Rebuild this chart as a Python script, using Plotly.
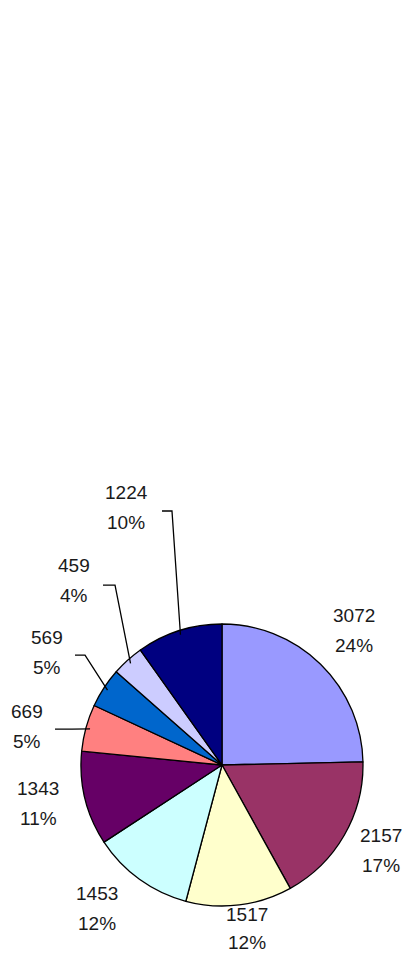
import math
import plotly.graph_objects as go

# ---- data ----
values = [3072, 2157, 1517, 1453, 1343, 669, 569, 459, 1224]
value_labels = ["3072", "2157", "1517", "1453", "1343", "669", "569", "459", "1224"]
pct_labels = ["24%", "17%", "12%", "12%", "11%", "5%", "5%", "4%", "10%"]
colors = ["#9999FF", "#993366", "#FFFFCC", "#CCFFFF", "#660066",
          "#FF8080", "#0066CC", "#CCCCFF", "#000080"]

# ---- layout constants (pixels) ----
W, H = 406, 955
CX, CY, R = 222, 765, 141
# label centre positions (value line) and gap to percent line
label_pos = [(354, 615), (381, 835), (247, 914), (97, 893), (38, 788),
             (27, 711), (47, 637), (74, 565), (126, 492)]
pct_gap = [30, 30, 28, 30, 30, 30, 30, 30, 30]
# leader-line elbows (start x, corner x, y) for labels that have one, else None
leaders = [None, None, None, None, None,
           (55, 72, 729), (75, 85, 655), (103, 115, 585), (162, 172, 511)]

def px(x):
    return x / W

def py(y):
    return 1 - y / H

fig = go.Figure()
fig.add_trace(go.Pie(
    values=values,
    labels=value_labels,
    marker=dict(colors=colors, line=dict(color="black", width=1.3)),
    sort=False,
    direction="clockwise",
    rotation=0,
    textinfo="none",
    hoverinfo="label+percent",
    showlegend=False,
    domain=dict(x=[px(CX - R), px(CX + R)], y=[py(CY + R), py(CY - R)]),
))

font = dict(family="Liberation Sans, Arial, sans-serif", size=19, color="#1a1a1a")
annotations = []
shapes = []
total = sum(values)
cum = 0
for i, v in enumerate(values):
    mid = (cum + v / 2) / total
    cum += v
    lx, ly = label_pos[i]
    annotations.append(dict(x=px(lx), y=py(ly), xref="paper", yref="paper",
                            text=value_labels[i], showarrow=False, font=font,
                            xanchor="center", yanchor="middle", borderpad=0))
    annotations.append(dict(x=px(lx), y=py(ly + pct_gap[i]), xref="paper", yref="paper",
                            text=pct_labels[i], showarrow=False, font=font,
                            xanchor="center", yanchor="middle", borderpad=0))
    if leaders[i] is not None:
        x0, x1, yl = leaders[i]
        ang = 2 * math.pi * mid
        ex = CX + 0.97 * R * math.sin(ang)
        ey = CY - 0.97 * R * math.cos(ang)
        path = "M {:.4f},{:.4f} L {:.4f},{:.4f} L {:.4f},{:.4f}".format(
            px(x0), py(yl), px(x1), py(yl), px(ex), py(ey))
        shapes.append(dict(type="path", path=path, xref="paper", yref="paper",
                           line=dict(color="black", width=1.3)))

fig.update_layout(
    width=W, height=H,
    margin=dict(l=0, r=0, t=0, b=0),
    paper_bgcolor="white", plot_bgcolor="white",
    annotations=annotations, shapes=shapes,
    showlegend=False,
)
fig.write_html(
    "out.html",
    config={"displayModeBar": False},
    post_script="document.body.style.margin='0';document.body.style.overflow='hidden';",
)
